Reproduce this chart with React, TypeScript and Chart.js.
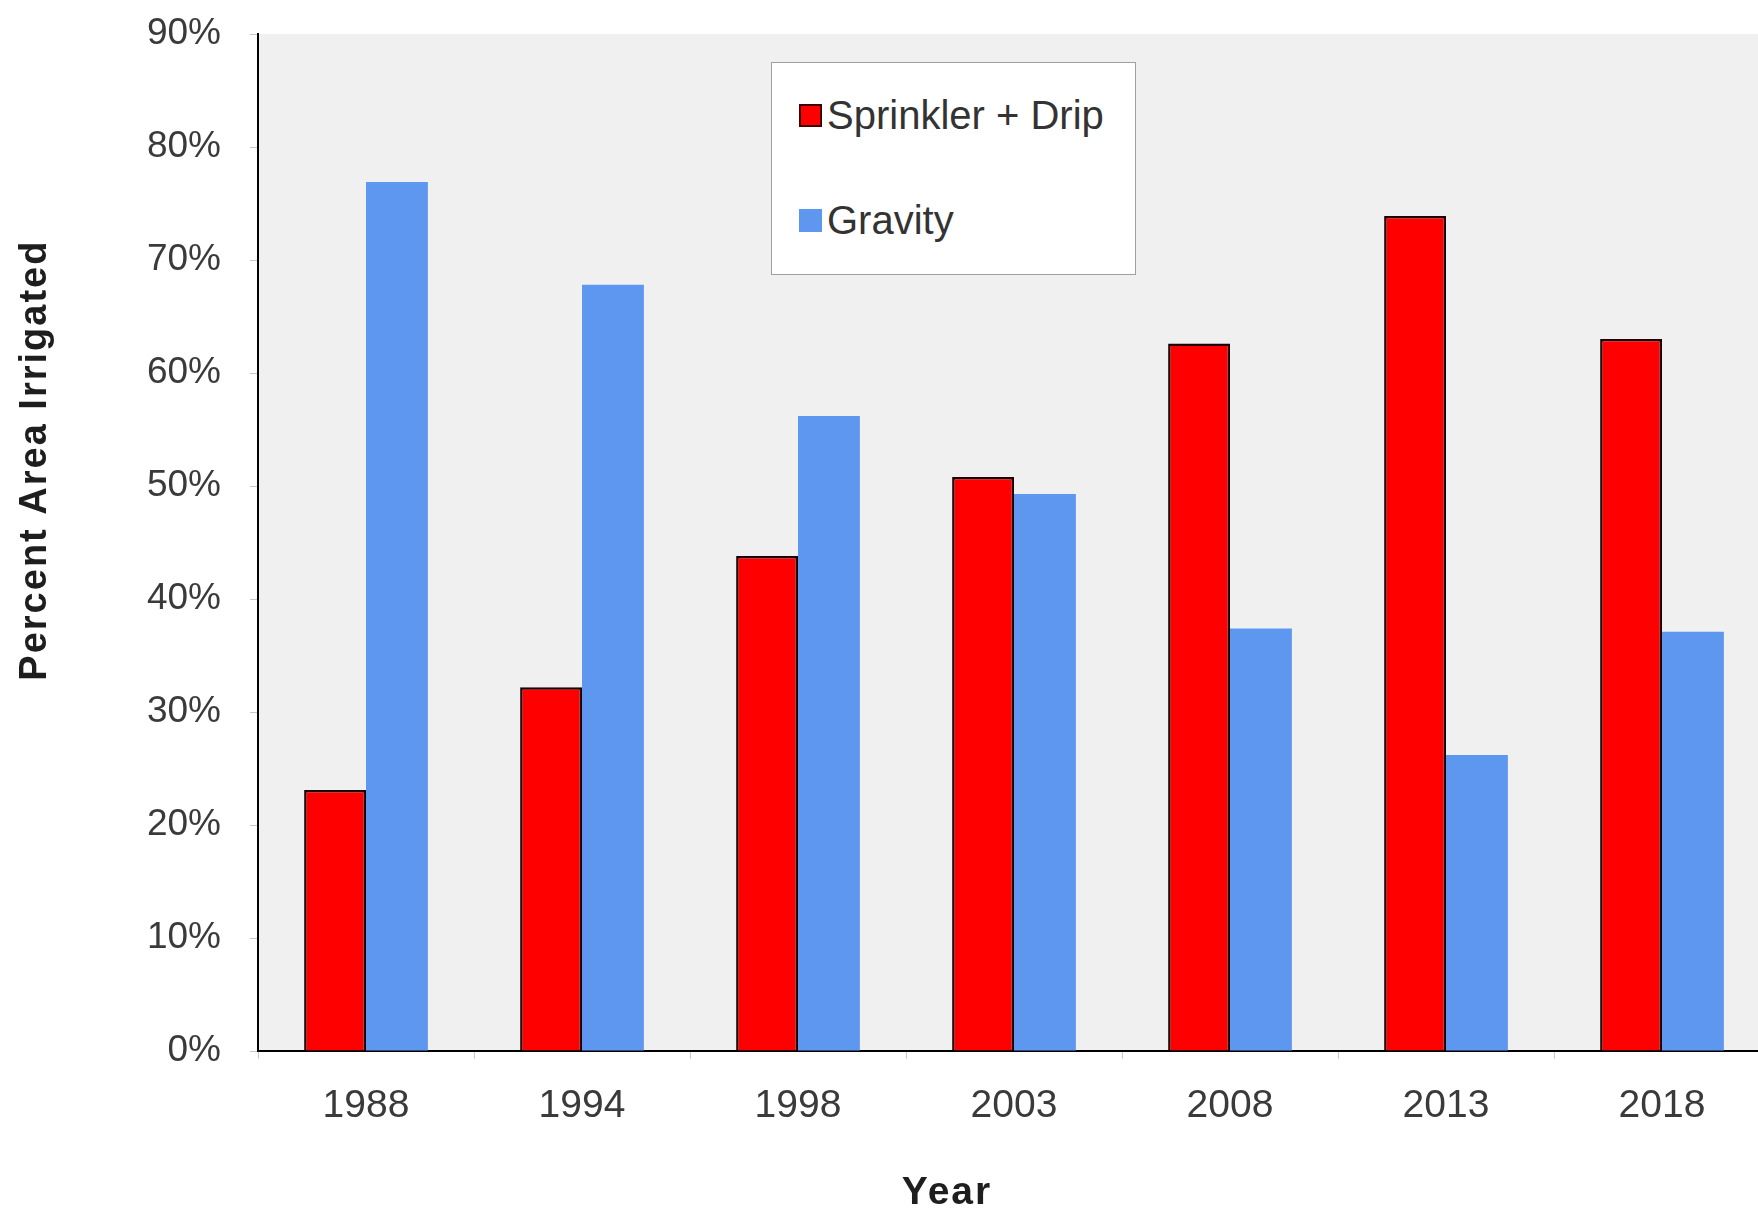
import React, { useEffect, useRef } from "react";
import { Chart, registerables } from "chart.js";

Chart.register(...registerables);

const YEARS = ["1988", "1994", "1998", "2003", "2008", "2013", "2018"];
const SPRINKLER_DRIP = [23.1, 32.2, 43.8, 50.8, 62.6, 73.9, 63.0];
const GRAVITY = [76.9, 67.8, 56.2, 49.3, 37.4, 26.2, 37.1];
const SERIES_NAMES = ["Sprinkler + Drip", "Gravity"];
const SERIES_COLORS = ["#FF0000", "#5E97EF"];
const Y_MIN = 0;
const Y_MAX = 90;
const Y_STEP = 10;
const Y_TITLE = "Percent Area Irrigated";
const X_TITLE = "Year";

const FONT = '"Liberation Sans", Arial, sans-serif';

const bgPlugin = {
  id: "plotBg",
  beforeDraw(chart: any) {
    const { ctx, chartArea } = chart;
    ctx.save();
    ctx.fillStyle = "#F0F0F0";
    ctx.fillRect(chartArea.left, chartArea.top, chartArea.right - chartArea.left, chartArea.bottom - chartArea.top);
    ctx.restore();
  },
};

const titlesPlugin = {
  id: "axisTitles",
  afterDraw(chart: any) {
    const { ctx, chartArea } = chart;
    const h = chartArea.bottom - chartArea.top;
    ctx.save();
    ctx.fillStyle = "#1e1e1e";
    ctx.textAlign = "center";
    ctx.textBaseline = "middle";
    ctx.font = `bold 38px ${FONT}`;
    try { (ctx as any).letterSpacing = "2px"; } catch (e) {}
    ctx.save();
    ctx.translate(chartArea.left - 222, chartArea.top + h * 0.419);
    ctx.rotate(-Math.PI / 2);
    ctx.fillText(Y_TITLE, 0, 0);
    ctx.restore();
    ctx.font = `bold 39px ${FONT}`;
    ctx.fillText(X_TITLE, 947, chartArea.bottom + 142);
    ctx.restore();
  },
};

function Legend() {
  const items = SERIES_NAMES.map((name, i) => (
    <div
      key={name}
      style={{
        position: "absolute",
        left: 27,
        top: i === 0 ? 29 : 134,
        height: 46,
        display: "flex",
        alignItems: "center",
        whiteSpace: "nowrap",
      }}
    >
      <span
        style={{
          display: "inline-block",
          width: i === 0 ? 19 : 23,
          height: i === 0 ? 19 : 23,
          background: SERIES_COLORS[i],
          border: i === 0 ? "2px solid #400" : "none",
          marginRight: 5,
        }}
      />
      <span style={{ font: `40px ${FONT}`, color: "#333", lineHeight: "46px" }}>{name}</span>
    </div>
  ));
  return (
    <div
      style={{
        position: "absolute",
        left: 771,
        top: 62,
        width: 363,
        height: 211,
        background: "#FFFFFF",
        border: "1px solid #A0A0A0",
      }}
    >
      {items}
    </div>
  );
}

export default function App() {
  const canvasRef = useRef<HTMLCanvasElement | null>(null);

  useEffect(() => {
    document.body.style.margin = "0";
    document.body.style.overflow = "hidden";
    const canvas = canvasRef.current;
    if (!canvas) return;
    const chart = new Chart(canvas, {
      type: "bar",
      data: {
        labels: YEARS,
        datasets: [
          {
            label: SERIES_NAMES[0],
            data: SPRINKLER_DRIP,
            backgroundColor: SERIES_COLORS[0],
            borderColor: "#200000",
            borderWidth: 2.5,
            borderSkipped: "bottom",
            categoryPercentage: 0.573,
            barPercentage: 1.0,
          },
          {
            label: SERIES_NAMES[1],
            data: GRAVITY,
            backgroundColor: SERIES_COLORS[1],
            borderWidth: 0,
            categoryPercentage: 0.573,
            barPercentage: 1.0,
          },
        ],
      },
      options: {
        animation: false,
        responsive: false,
        maintainAspectRatio: false,
        layout: { padding: { top: 34, right: 0, bottom: 0, left: 0 } },
        plugins: {
          legend: { display: false },
          tooltip: { enabled: false },
          title: { display: false },
        },
        scales: {
          x: {
            afterFit(scale: any) {
              scale.height = 158;
              scale.paddingLeft = 0;
              scale.paddingRight = 0;
            },
            grid: {
              display: true,
              drawOnChartArea: false,
              drawTicks: true,
              tickLength: 8,
              tickColor: "#C8C8C8",
              offset: true,
            },
            border: { display: true, color: "#000000", width: 2 },
            ticks: {
              color: "#3a3a3a",
              font: { family: FONT, size: 39 },
              padding: 24,
              maxRotation: 0,
            },
          },
          y: {
            min: Y_MIN,
            max: Y_MAX,
            afterFit(scale: any) {
              scale.width = 258;
              scale.paddingTop = 0;
              scale.paddingBottom = 0;
            },
            grid: {
              display: true,
              drawOnChartArea: false,
              drawTicks: true,
              tickLength: 8,
              tickColor: "#C8C8C8",
            },
            border: { display: true, color: "#000000", width: 2 },
            ticks: {
              stepSize: Y_STEP,
              color: "#3a3a3a",
              font: { family: FONT, size: 37 },
              padding: 29,
              callback: (v: any) => `${v}%`,
            },
          },
        },
      },
      plugins: [bgPlugin, titlesPlugin],
    });
    return () => chart.destroy();
  }, []);

  return (
    <div
      style={{
        position: "fixed",
        left: 0,
        top: 0,
        width: 1758,
        height: 1209,
        overflow: "hidden",
        background: "#fff",
      }}
    >
      <canvas ref={canvasRef} width={1770} height={1209} style={{ display: "block" }} />
      <Legend />
    </div>
  );
}
